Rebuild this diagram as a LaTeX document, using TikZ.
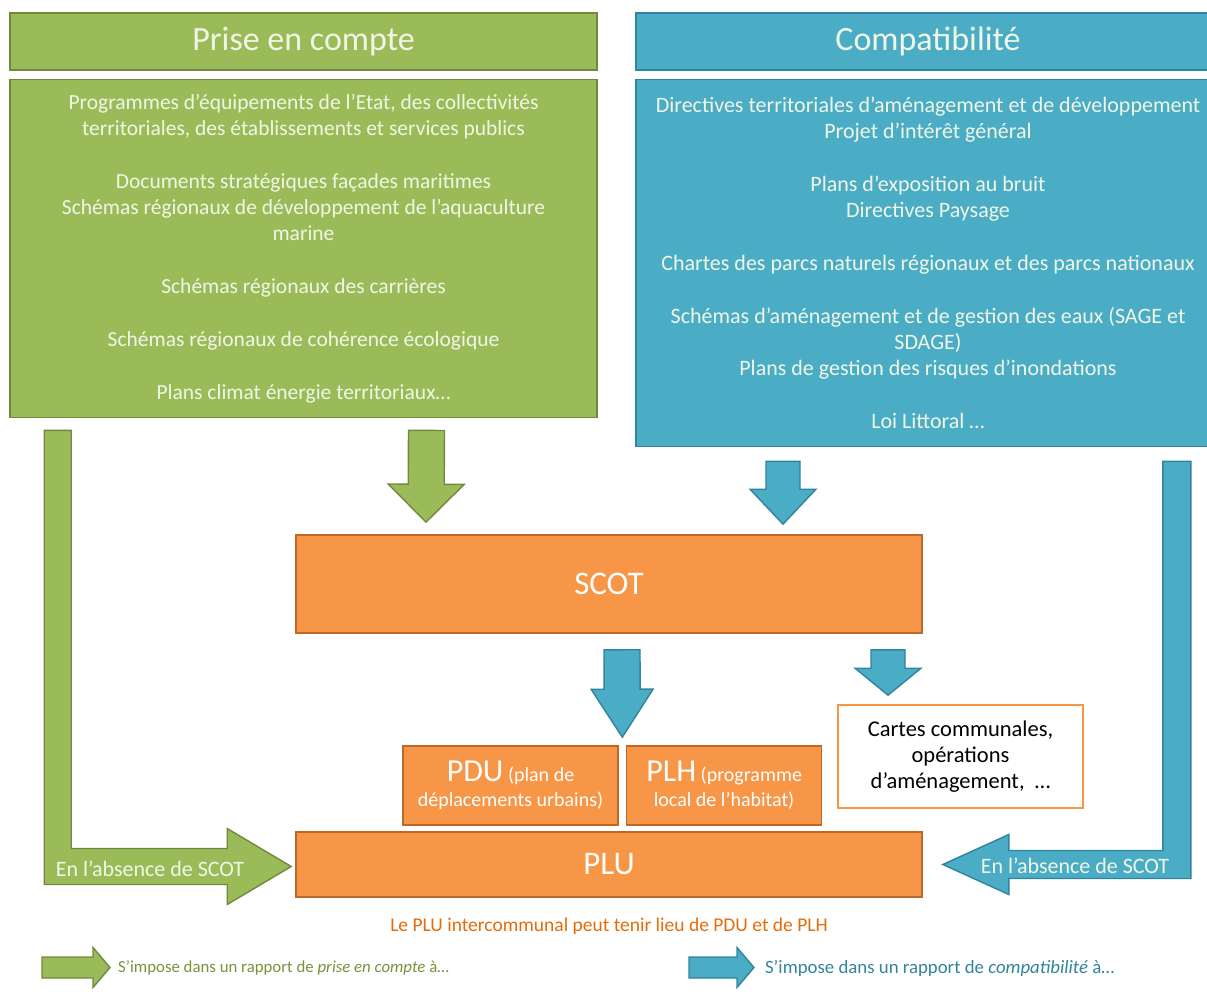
\documentclass[tikz,border=0pt]{standalone}
\usepackage{fontspec}
\setmainfont{Carlito}
\usetikzlibrary{positioning,calc}
\definecolor{urba@green}{RGB}{155,187,89}
\definecolor{urba@greendk}{RGB}{113,137,62}
\definecolor{urba@greentx}{RGB}{118,146,60}
\definecolor{urba@blue}{RGB}{75,172,198}
\definecolor{urba@bluedk}{RGB}{49,132,155}
\definecolor{urba@orange}{RGB}{247,150,70}
\definecolor{urba@orangedk}{RGB}{190,104,40}
\definecolor{urba@orangetx}{RGB}{228,108,10}
\definecolor{urba@pale}{RGB}{240,246,230}
\newcommand{\urbabody}{\fontsize{21.5}{26}\selectfont}
\newcommand{\urbatitle}{\fontsize{34}{38}\selectfont}
\newcommand{\urbasmall}{\fontsize{17.5}{21}\selectfont}
\tikzset{
  urba/.style={x=1pt, y=-1pt, line join=miter, every node/.style={inner sep=0pt}},
  gbox/.style={                    % green "prise en compte" box
    draw=urba@greendk, fill=urba@green, line width=1.6pt,
    text=urba@pale, align=center, font=\urbabody
  },
  bbox/.style={                    % blue "compatibilite" box
    draw=urba@bluedk, fill=urba@blue, line width=1.6pt,
    text=urba@pale, align=center, font=\urbabody
  },
  obox/.style={                    % orange planning document
    draw=urba@orangedk, fill=urba@orange, line width=1.6pt,
    text=white, align=center, font=\fontsize{33}{38}\selectfont
  },
  cbox/.style={
    draw=urba@orange, fill=white, line width=1.6pt,
    text=black, align=center, font=\fontsize{22.5}{26}\selectfont
  },
  garrow/.style={draw=urba@greendk, fill=urba@green, line width=1.4pt},
  barrow/.style={draw=urba@bluedk, fill=urba@blue, line width=1.4pt},
  legend/.style={anchor=west, font=\urbasmall}
}
% block arrow: style, from, to, shaft half width, head half width, head length
\newcommand{\fatarrow}[6][garrow]{%
  \coordinate (fa-s) at (#2);
  \coordinate (fa-e) at (#3);
  \coordinate (fa-b) at ($(fa-e)!#6!(fa-s)$);
  \draw[#1] ($(fa-s)!#4!90:(fa-e)$) -- ($(fa-b)!#4!90:(fa-e)$) -- ($(fa-b)!#5!90:(fa-e)$)
    -- (fa-e) -- ($(fa-b)!#5!-90:(fa-e)$) -- ($(fa-b)!#4!-90:(fa-e)$) -- ($(fa-s)!#4!-90:(fa-e)$) -- cycle;
}

\begin{document}
\begin{tikzpicture}[urba]
\useasboundingbox (0,0) rectangle (1207,992);

% the two families of higher documents
\node[gbox, font=\urbatitle, minimum width=587pt, minimum height=57pt] (gtitle) at (303.5,41.5) {Prise en compte};
\node[gbox, minimum width=587pt, minimum height=338pt, below=8pt of gtitle] (gbody)
  {Programmes d’équipements de l’Etat, des collectivités\\
   territoriales, des établissements et services publics\\[27pt]
   Documents stratégiques façades maritimes\\
   Schémas régionaux de développement de l’aquaculture\\
   marine\\[27pt]
   Schémas régionaux des carrières\\[27pt]
   Schémas régionaux de cohérence écologique\\[27pt]
   Plans climat énergie territoriaux…};

\node[bbox, font=\urbatitle, minimum width=584pt, minimum height=57pt] (btitle) at (928,41.5) {Compatibilité};
\node[bbox, minimum width=584pt, minimum height=367pt, below=8pt of btitle, font=\fontsize{22}{26}\selectfont] (bbody)
  {Directives territoriales d’aménagement et de développement\\
   Projet d’intérêt général\\[27pt]
   Plans d’exposition au bruit\\
   Directives Paysage\\[27pt]
   Chartes des parcs naturels régionaux et des parcs nationaux\\[27pt]
   Schémas d’aménagement et de gestion des eaux (SAGE et\\
   SDAGE)\\
   Plans de gestion des risques d’inondations\\[27pt]
   Loi Littoral …};

% local documents
\node[obox, minimum width=626pt, minimum height=98pt] (scot) at (609,584) {SCOT};
\node[obox, minimum width=626pt, minimum height=65pt] (plu) at (609,864.5) {PLU};
\node[obox, minimum width=215pt, minimum height=79pt, font=\fontsize{20}{24}\selectfont] (pdu) at (510.5,785.5)
  {{\fontsize{32}{32}\selectfont PDU} (plan de\\[1pt] déplacements urbains)};
\node[obox, minimum width=195pt, minimum height=79pt, font=\fontsize{20}{24}\selectfont, right=7pt of pdu] (plh)
  {{\fontsize{32}{32}\selectfont PLH} (programme\\[1pt] local de l’habitat)};
\node[cbox, minimum width=245pt, minimum height=103pt] (cartes) at (960.5,756.5)
  {Cartes communales,\\ opérations\\ d’aménagement, \ …};

\node[font=\fontsize{19.5}{23}\selectfont, text=urba@orangetx, below=20pt of plu] (note)
  {Le PLU intercommunal peut tenir lieu de PDU et de PLH};

% straight block arrows
\fatarrow[garrow]{$(gbody.south)+(123,12)$}{$(scot.north)+(-183,-12)$}{18pt}{38pt}{38pt}
\fatarrow[barrow]{$(bbody.south)+(-145,14)$}{$(scot.north)+(174,-10)$}{17pt}{33pt}{35pt}
\fatarrow[barrow]{$(scot.south)+(13,16)$}{$($(pdu.north east)!0.5!(plh.north west)$)+(0,-8)$}{18pt}{31pt}{48pt}
\fatarrow[barrow]{$(scot.south)+(279,16)$}{$(cartes.north)+(-72.5,-9)$}{17pt}{33pt}{27pt}

% bent arrows, in the absence of SCOT
\coordinate (gl-top) at ($(gbody.south west)+(35,12)$);
\coordinate (gl-tip) at ($(plu.west)+(-4,2)$);
\draw[garrow] (gl-top) -- ++(27,0) |- ($(gl-tip)+(-64,-18)$) -- ++(0,-20) -- (gl-tip)
  -- ++(-64,38) -- ++(0,-20) -| (gl-top) -- cycle;
\node[font=\fontsize{22}{26}\selectfont, text=urba@pale] (gabs) at (150,869) {En l’absence de SCOT};

\coordinate (bl-top) at ($(bbody.south east)+(-58,14)$);
\coordinate (bl-tip) at ($(plu.east)+(20,0)$);
\draw[barrow] (bl-top) -- ++(28,0) |- ($(bl-tip)+(66,14)$) -- ++(0,16) -- (bl-tip)
  -- ++(66,-30) -- ++(0,16) -| (bl-top) -- cycle;
\node[font=\fontsize{22}{26}\selectfont, text=urba@pale] (babs) at (1075,866) {En l’absence de SCOT};

% legend
\coordinate (gleg-s) at (42,967.5);
\coordinate (gleg-e) at (110,967.5);
\fatarrow[garrow]{gleg-s}{gleg-e}{10.5pt}{20pt}{17pt}
\node[legend, text=urba@greentx, font=\fontsize{16.8}{20}\selectfont] (gleg) at (118,968) {S’impose dans un rapport de \textit{prise en compte} à…};
\coordinate (bleg-s) at (689,967.5);
\coordinate (bleg-e) at (754,967.5);
\fatarrow[barrow]{bleg-s}{bleg-e}{10.5pt}{20pt}{17pt}
\node[legend, text=urba@bluedk, font=\fontsize{18.8}{22}\selectfont] (bleg) at (765,968) {S’impose dans un rapport de \textit{compatibilité} à…};

\end{tikzpicture}
\end{document}
